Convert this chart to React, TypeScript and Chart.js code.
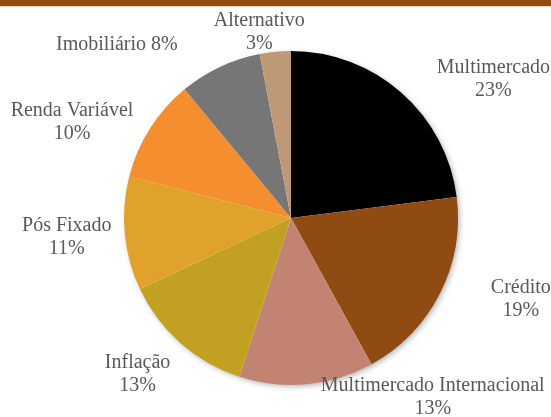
import React, { useEffect, useRef } from "react";
import { Chart, registerables } from "chart.js";

Chart.register(...registerables);

const categories = [
  "Multimercado",
  "Crédito",
  "Multimercado Internacional",
  "Inflação",
  "Pós Fixado",
  "Renda Variável",
  "Imobiliário",
  "Alternativo",
];
const values = [23, 19, 13, 13, 11, 10, 8, 3];
const colors = [
  "#000000",
  "#8F4B12",
  "#C38372",
  "#C1A022",
  "#E0A22B",
  "#F48E2F",
  "#767676",
  "#BE9877",
];

// label placement relative to each slice's outer mid-point (style only)
const labelLayout = [
  { dx: 92, dy: -13, oneLine: false },
  { dx: 81, dy: 5, oneLine: false },
  { dx: 126, dy: 13, oneLine: false },
  { dx: -43, dy: 31, oneLine: false },
  { dx: -58, dy: 4, oneLine: false },
  { dx: -78, dy: -6, oneLine: false },
  { dx: -103, dy: -22, oneLine: true },
  { dx: -16, dy: -19, oneLine: false },
];

const FONT = '20px "Liberation Serif", "DejaVu Serif", serif';

const shadowPlugin = {
  id: "pieShadow",
  beforeDatasetsDraw(chart: any) {
    const meta = chart.getDatasetMeta(0);
    const arc = meta.data[0];
    if (!arc) return;
    const { x, y, outerRadius } = arc.getProps(["x", "y", "outerRadius"], true);
    const ctx = chart.ctx;
    ctx.save();
    ctx.shadowColor = "rgba(0,0,0,0.35)";
    ctx.shadowBlur = 6;
    ctx.shadowOffsetX = 2;
    ctx.shadowOffsetY = 2;
    ctx.fillStyle = "#ffffff";
    ctx.beginPath();
    ctx.arc(x, y, outerRadius - 1, 0, Math.PI * 2);
    ctx.fill();
    ctx.restore();
  },
};

const labelPlugin = {
  id: "pieLabels",
  afterDatasetsDraw(chart: any) {
    const meta = chart.getDatasetMeta(0);
    const ctx = chart.ctx;
    const data = chart.data.datasets[0].data as number[];
    ctx.save();
    ctx.font = FONT;
    ctx.fillStyle = "#595959";
    ctx.textAlign = "center";
    ctx.textBaseline = "middle";
    meta.data.forEach((arc: any, i: number) => {
      const p = arc.getProps(["x", "y", "startAngle", "endAngle", "outerRadius"], true);
      const mid = (p.startAngle + p.endAngle) / 2;
      const ax = p.x + Math.cos(mid) * p.outerRadius;
      const ay = p.y + Math.sin(mid) * p.outerRadius;
      const lay = labelLayout[i];
      const cx = ax + lay.dx;
      const cy = ay + lay.dy;
      const name = chart.data.labels[i];
      const pct = data[i] + "%";
      if (lay.oneLine) {
        ctx.fillText(name + " " + pct, cx, cy);
      } else {
        ctx.fillText(name, cx, cy - 11.5);
        ctx.fillText(pct, cx, cy + 11.5);
      }
    });
    ctx.restore();
  },
};

export default function App() {
  const ref = useRef<HTMLCanvasElement | null>(null);
  useEffect(() => {
    document.body.style.margin = "0";
    if (!ref.current) return;
    const chart = new Chart(ref.current, {
      type: "pie",
      data: {
        labels: categories,
        datasets: [
          {
            data: values,
            backgroundColor: colors,
            borderWidth: 0,
          },
        ],
      },
      options: {
        animation: false,
        responsive: false,
        maintainAspectRatio: false,
        layout: { padding: { left: 124, right: 93, top: 51, bottom: 32 } },
        plugins: {
          legend: { display: false },
          tooltip: { enabled: false },
        },
      },
      plugins: [shadowPlugin, labelPlugin],
    });
    return () => chart.destroy();
  }, []);
  return (
    <div style={{ position: "relative", width: 551, height: 417, background: "#fff", overflow: "hidden" }}>
      <div style={{ position: "absolute", left: 0, top: 0, width: 551, height: 6, background: "#934C14" }} />
      <div style={{ position: "absolute", left: 0, top: 6, width: 551, height: 1, background: "#E6D8CC" }} />
      <canvas ref={ref} width={551} height={417} style={{ display: "block" }} />
    </div>
  );
}
